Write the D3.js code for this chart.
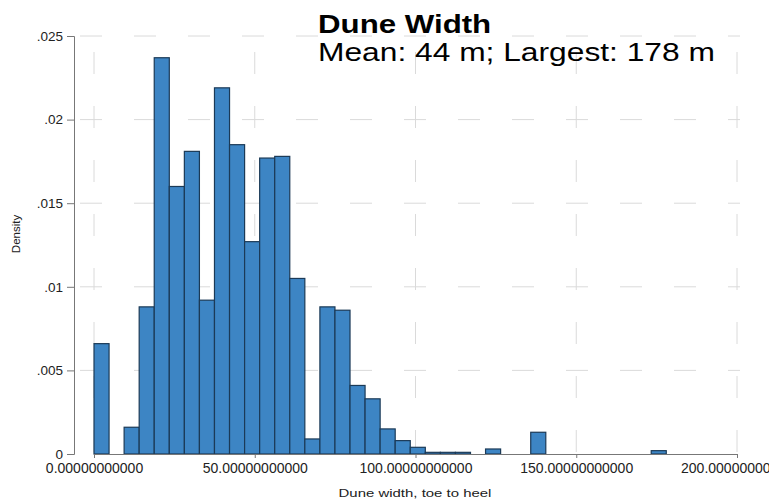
<!DOCTYPE html>
<html><head><meta charset="utf-8">
<script src="https://cdn.jsdelivr.net/npm/d3@7"></script>
<style>body{margin:0;background:#fff}svg{display:block}text{font-family:"Liberation Sans",Arial,sans-serif}</style>
</head><body><svg id="c" width="769" height="500"></svg>
<script>
const binStart = 0, binEnd = 178, nBins = 38;
const densities = [0.0066,0,0.0016,0.0088,0.0237,0.0160,0.0181,0.0092,0.0219,0.0185,0.0127,0.0177,0.0178,0.0105,0.0009,0.0088,0.0086,0.0041,0.0033,0.0015,0.0008,0.0004,0.0001,0.0001,0.0001,0,0.0003,0,0,0.0013,0,0,0,0,0,0,0,0.0002];
const xTicks = [0,50,100,150,200];
const yTicks = [0,0.005,0.01,0.015,0.02,0.025];
const yTickLabels = ["0",".005",".01",".015",".02",".025"];
const title = "Dune Width";
const subtitle = "Mean: 44 m; Largest: 178 m";

const svg = d3.select("#c");
const x = d3.scaleLinear().domain([0,200]).range([94,737]);
const y = d3.scaleLinear().domain([0,0.025]).range([454,36]);
const w = (binEnd-binStart)/nBins;
const bins = densities.map((d,i)=>({x0:binStart+i*w, x1:binStart+(i+1)*w, d}));

// grid
const g = svg.append("g");
g.selectAll("line.h").data(yTicks.slice(1)).join("line")
  .attr("x1",76).attr("x2",740).attr("y1",d=>y(d)).attr("y2",d=>y(d))
  .attr("stroke","#dadada").attr("stroke-dasharray","22,32").attr("stroke-dashoffset",-4);
g.selectAll("line.v").data(xTicks).join("line")
  .attr("x1",d=>x(d)).attr("x2",d=>x(d)).attr("y1",452).attr("y2",30)
  .attr("stroke","#dadada").attr("stroke-dasharray","22,32");

// bars
svg.append("g").selectAll("rect").data(bins.filter(b=>b.d>0)).join("rect")
  .attr("x",b=>x(b.x0)).attr("width",b=>x(b.x1)-x(b.x0))
  .attr("y",b=>y(b.d)).attr("height",b=>y(0)-y(b.d))
  .attr("fill","#3d85c4").attr("stroke","#1b3a57").attr("stroke-width",1.2);

// axes
const yAxis = d3.axisLeft(y).tickValues(yTicks).tickFormat((d,i)=>yTickLabels[i]).tickSize(7).tickPadding(4);
const ya = svg.append("g").attr("transform","translate(74,0)").call(yAxis);
const xAxis = d3.axisBottom(x).tickValues(xTicks).tickFormat(d=>d.toFixed(11)).tickSize(4).tickPadding(5);
const xa = svg.append("g").attr("transform","translate(0,454)").call(xAxis);
[ya,xa].forEach(a=>{a.select(".domain").attr("stroke","#777");a.selectAll(".tick line").attr("stroke","#777");
  a.selectAll("text").attr("fill","#222").attr("font-family","Liberation Sans, Arial, sans-serif");});
ya.selectAll("text").attr("font-size",13.5);
xa.selectAll("text").attr("font-size",14);

// labels
svg.append("text").attr("transform","translate(415,497) scale(1.3,1)").attr("text-anchor","middle").attr("font-size",11.5).attr("fill","#222").text("Dune width, toe to heel");
svg.append("text").attr("transform","translate(20,234) rotate(-90)").attr("text-anchor","middle").attr("font-size",11.5).attr("fill","#222").text("Density");
svg.append("text").attr("transform","translate(318,33) scale(1.25,1)").attr("font-size",25).attr("font-weight","bold").attr("fill","#000").text(title);
svg.append("text").attr("transform","translate(318,61) scale(1.27,1)").attr("font-size",25).attr("fill","#000").text(subtitle);
</script></body></html>
